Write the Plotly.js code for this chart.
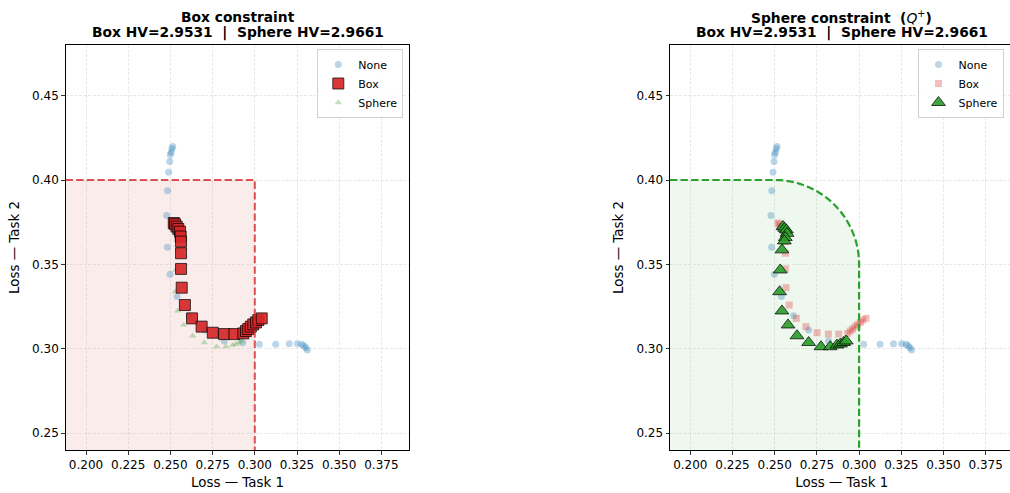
<!DOCTYPE html>
<html>
<head>
<meta charset="utf-8">
<script src="https://cdn.plot.ly/plotly-3.0.1.min.js"></script>
<style>
  html, body { margin: 0; padding: 0; background: #ffffff; overflow: hidden; }
  #chart { width: 1015px; height: 493px; }
</style>
</head>
<body>
<div id="chart"></div>
<script>
// Pareto fronts (Loss on task 1 vs loss on task 2) for three training variants
const NONE_X = [0.2514, 0.2509, 0.2504, 0.2499, 0.2496, 0.2490, 0.2483, 0.2478, 0.2482, 0.2498, 0.2540, 0.2612,
                0.2701, 0.2819, 0.2928, 0.3027, 0.3124, 0.3204, 0.3252, 0.3278, 0.3291, 0.3302, 0.3311];
const NONE_Y = [0.4199, 0.4185, 0.4165, 0.4150, 0.4110, 0.4046, 0.3936, 0.3789, 0.3601, 0.3441, 0.3309, 0.3196,
                0.3111, 0.3046, 0.3036, 0.3026, 0.3026, 0.3030, 0.3030, 0.3026, 0.3018, 0.3006, 0.2992];

const BOX_X = [0.2520, 0.2527, 0.2537, 0.2547, 0.2557, 0.2561, 0.2563, 0.2563, 0.2563, 0.2567, 0.2586, 0.2628,
               0.2685, 0.2751, 0.2818, 0.2879, 0.2932, 0.2948, 0.2961, 0.2976, 0.2991, 0.3007, 0.3021, 0.3041];
const BOX_Y = [0.3745, 0.3738, 0.3724, 0.3710, 0.3694, 0.3665, 0.3635, 0.3566, 0.3473, 0.3362, 0.3259, 0.3180,
               0.3131, 0.3095, 0.3087, 0.3087, 0.3091, 0.3105, 0.3117, 0.3131, 0.3144, 0.3156, 0.3170, 0.3180];

const SPHERE_X = [0.2549, 0.2559, 0.2569, 0.2573, 0.2563, 0.2557, 0.2543, 0.2533, 0.2529, 0.2543, 0.2579, 0.2632,
                  0.2701, 0.2774, 0.2829, 0.2869, 0.2889, 0.2908, 0.2924];
const SPHERE_Y = [0.3724, 0.3714, 0.3704, 0.3684, 0.3659, 0.3639, 0.3586, 0.3467, 0.3338, 0.3224, 0.3141, 0.3077,
                  0.3037, 0.3012, 0.3012, 0.3022, 0.3028, 0.3037, 0.3046];

// Hypervolumes reported in the titles
const BOX_HV = 2.9531;
const SPHERE_HV = 2.9661;

// Constraint region: box limits and rounded corner radius of the sphere variant
const LIMIT_X = 0.30;
const LIMIT_Y = 0.40;
const CORNER_R = 0.05;

// Axis ticks
const X_TICKS = [0.200, 0.225, 0.250, 0.275, 0.300, 0.325, 0.350, 0.375];
const Y_TICKS = [0.25, 0.30, 0.35, 0.40, 0.45];
const X_RANGE = [0.18797, 0.39153];
const Y_RANGE = [0.24, 0.48];

const W = 1015, H = 493;
const px = (a, b) => [a / W, b / W];
const DOM_Y = [1 - 450 / H, 1 - 45 / H];
const DOM_X1 = px(65.7, 409.3);
const DOM_X2 = px(670, 1013.6);

const FONT = 'DejaVu Sans, Liberation Sans, sans-serif';
const BLUE = '#1f77b4', RED = '#d62728', GREEN = '#2ca02c';

function noneTrace(xa, ya, lg) {
  return {
    type: 'scatter', mode: 'markers', name: 'None', x: NONE_X, y: NONE_Y,
    xaxis: xa, yaxis: ya, legend: lg, legendrank: 1, cliponaxis: true,
    marker: { symbol: 'circle', size: 7, color: BLUE, opacity: 0.3, line: { width: 0 } }
  };
}
function boxTrace(xa, ya, lg, strong) {
  return {
    type: 'scatter', mode: 'markers', name: 'Box', x: BOX_X, y: BOX_Y,
    xaxis: xa, yaxis: ya, legend: lg, legendrank: 2,
    marker: strong
      ? { symbol: 'square', size: 11, color: RED, opacity: 0.92, line: { color: '#000000', width: 0.8 } }
      : { symbol: 'square', size: 7, color: RED, opacity: 0.3, line: { width: 0 } }
  };
}
function sphereTrace(xa, ya, lg, strong) {
  return {
    type: 'scatter', mode: 'markers', name: 'Sphere', x: SPHERE_X, y: SPHERE_Y,
    xaxis: xa, yaxis: ya, legend: lg, legendrank: 3,
    marker: strong
      ? { symbol: 'triangle-up', size: 12, color: GREEN, opacity: 0.92, line: { color: '#000000', width: 0.8 } }
      : { symbol: 'triangle-up', size: 6.5, color: GREEN, opacity: 0.3, line: { width: 0 } }
  };
}

const data = [
  noneTrace('x', 'y', 'legend'),
  sphereTrace('x', 'y', 'legend', false),
  boxTrace('x', 'y', 'legend', true),
  noneTrace('x2', 'y2', 'legend2'),
  boxTrace('x2', 'y2', 'legend2', false),
  sphereTrace('x2', 'y2', 'legend2', true)
];

// Constraint region outlines
const lo = 0.10;  // far outside the view so the region reaches the axes' edges
const boxPath = `M${lo},${LIMIT_Y} L${LIMIT_X},${LIMIT_Y} L${LIMIT_X},${lo}`;
const boxFill = `M${lo},${lo} L${lo},${LIMIT_Y} L${LIMIT_X},${LIMIT_Y} L${LIMIT_X},${lo} Z`;

const cx = LIMIT_X - CORNER_R, cy = LIMIT_Y - CORNER_R;
let arc = '';
for (let i = 0; i <= 48; i++) {
  const t = Math.PI / 2 * (1 - i / 48);
  arc += ` L${(cx + CORNER_R * Math.cos(t)).toFixed(5)},${(cy + CORNER_R * Math.sin(t)).toFixed(5)}`;
}
const spherePath = `M${lo},${LIMIT_Y} L${cx},${LIMIT_Y}${arc} L${LIMIT_X},${lo}`;
const sphereFill = `M${lo},${lo} L${lo},${LIMIT_Y} L${cx},${LIMIT_Y}${arc} L${LIMIT_X},${lo} Z`;

const shapes = [
  { type: 'path', xref: 'x', yref: 'y', path: boxFill, layer: 'below',
    fillcolor: 'rgba(214,39,40,0.09)', line: { width: 0 } },
  { type: 'path', xref: 'x', yref: 'y', path: boxPath, layer: 'above',
    line: { color: 'rgba(214,39,40,0.8)', width: 2, dash: '7.4px,3.2px' } },
  { type: 'path', xref: 'x2', yref: 'y2', path: sphereFill, layer: 'below',
    fillcolor: 'rgba(44,160,44,0.08)', line: { width: 0 } },
  { type: 'path', xref: 'x2', yref: 'y2', path: spherePath, layer: 'above',
    line: { color: GREEN, width: 2.2, dash: '7.4px,3.2px' } }
];

function xAxis(dom, anchor) {
  return {
    domain: dom, anchor: anchor, range: X_RANGE, autorange: false,
    tickmode: 'array', tickvals: X_TICKS, ticktext: X_TICKS.map(v => v.toFixed(3)),
    ticks: 'outside', ticklen: 3.5, tickwidth: 0.8, tickcolor: '#000',
    showline: true, linecolor: '#000', linewidth: 1, mirror: true,
    showgrid: true, gridcolor: 'rgba(176,176,176,0.35)', gridwidth: 0.8, griddash: '3px,1.5px',
    zeroline: false, tickfont: { family: FONT, size: 12, color: '#000' },
    title: { text: 'Loss — Task 1', font: { family: FONT, size: 13.4, color: '#000' }, standoff: 6 }
  };
}
function yAxis(anchor) {
  return {
    domain: DOM_Y, anchor: anchor, range: Y_RANGE, autorange: false,
    tickmode: 'array', tickvals: Y_TICKS, ticktext: Y_TICKS.map(v => v.toFixed(2)),
    ticks: 'outside', ticklen: 3.5, tickwidth: 0.8, tickcolor: '#000',
    showline: true, linecolor: '#000', linewidth: 1, mirror: true,
    showgrid: true, gridcolor: 'rgba(176,176,176,0.35)', gridwidth: 0.8, griddash: '3px,1.5px',
    zeroline: false, tickfont: { family: FONT, size: 12, color: '#000' },
    title: { text: 'Loss — Task 2', font: { family: FONT, size: 13.4, color: '#000' }, standoff: 9 }
  };
}

const hvLine = `<b>Box HV=${BOX_HV.toFixed(4)}\u00a0\u00a0|\u00a0\u00a0Sphere HV=${SPHERE_HV.toFixed(4)}</b>`;
const mid = d => (d[0] + d[1]) / 2;
function titleAnn(dom, text, py) {
  return {
    xref: 'paper', yref: 'paper', x: mid(dom), y: 1 - py / H, xanchor: 'center', yanchor: 'middle',
    showarrow: false, text: text, font: { family: FONT, size: 13.8, color: '#000' }
  };
}

const legendBase = {
  xref: 'paper', yref: 'paper', xanchor: 'right', yanchor: 'top',
  bgcolor: 'rgba(255,255,255,0.85)', bordercolor: '#d0d0d0', borderwidth: 1,
  font: { family: FONT, size: 11, color: '#000' }, itemwidth: 30, tracegroupgap: 0
};

const layout = {
  width: W, height: H,
  margin: { l: 0, r: 0, t: 0, b: 0 },
  paper_bgcolor: '#ffffff', plot_bgcolor: '#ffffff',
  showlegend: true,
  xaxis: xAxis(DOM_X1, 'y'), yaxis: yAxis('x'),
  xaxis2: xAxis(DOM_X2, 'y2'), yaxis2: yAxis('x2'),
  legend: Object.assign({}, legendBase, { x: (409.3 - 6) / W, y: 1 - 49 / H }),
  legend2: Object.assign({}, legendBase, { x: (1003.5) / W, y: 1 - 49 / H }),
  shapes: shapes,
  annotations: [
    titleAnn(DOM_X1, '<b>Box constraint</b>', 17),
    titleAnn(DOM_X1, hvLine, 33),
    titleAnn(DOM_X2, '<b>Sphere constraint\u00a0\u00a0(</b><i>Q</i><sup>+</sup><b>)</b>', 17),
    titleAnn(DOM_X2, hvLine, 33)
  ]
};

Plotly.newPlot('chart', data, layout, { displayModeBar: false, staticPlot: true });
</script>
</body>
</html>
